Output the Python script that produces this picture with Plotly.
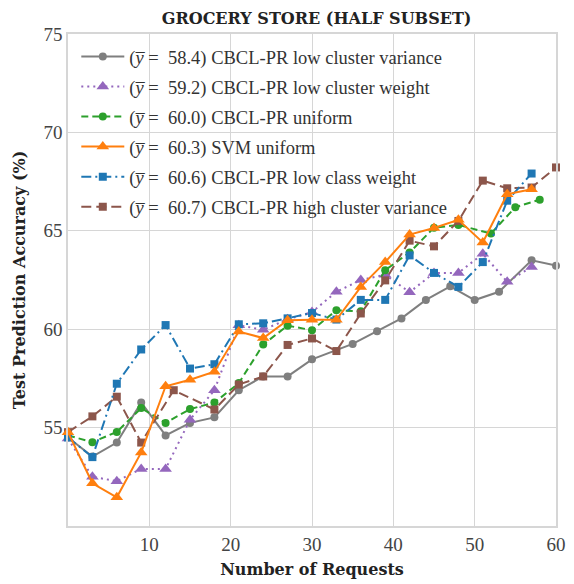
import plotly.graph_objects as go

# ---- data ----
gray_x = [0, 3, 6, 9, 12, 15, 18, 21, 24, 27, 30, 35, 38, 41, 44, 47, 50, 53, 57, 60]
gray_y = [54.5, 53.53, 54.24, 56.27, 54.6, 55.24, 55.52, 56.9, 57.6, 57.6, 58.47, 59.25,
          59.9, 60.55, 61.49, 62.18, 61.48, 61.9, 63.5, 63.23]

purple_x = [0, 3, 6, 9, 12, 15, 18, 21, 24, 27, 30, 33, 36, 39, 42, 45, 48, 51, 54, 57]
purple_y = [54.44, 52.5, 52.28, 52.9, 52.9, 55.4, 56.9, 60.2, 59.97, 60.5, 60.87, 61.9,
            62.5, 62.77, 61.88, 62.86, 62.86, 63.83, 62.41, 63.16]

green_x = [0, 3, 6, 9, 12, 15, 18, 21, 24, 27, 30, 33, 36, 39, 42, 45, 48, 52, 55, 58]
green_y = [54.6, 54.26, 54.78, 55.99, 55.24, 55.94, 56.27, 57.26, 59.22, 60.18, 59.95,
           60.96, 60.91, 63.0, 63.9, 65.16, 65.3, 64.86, 66.2, 66.58]

orange_x = [0, 3, 6, 9, 12, 15, 18, 21, 24, 27, 30, 33, 36, 39, 42, 45, 48, 51, 54, 57]
orange_y = [54.77, 52.17, 51.46, 53.74, 57.1, 57.43, 57.84, 59.88, 59.55, 60.46, 60.48,
            60.48, 62.15, 63.41, 64.81, 65.14, 65.56, 64.41, 66.86, 67.11]

blue_x = [0, 3, 6, 9, 12, 15, 18, 21, 24, 27, 30, 33, 36, 39, 42, 45, 48, 51, 54, 57]
blue_y = [54.5, 53.5, 57.23, 58.97, 60.21, 58.0, 58.22, 60.25, 60.3, 60.55, 60.82, 60.49,
          61.49, 61.49, 63.75, 62.86, 62.15, 63.41, 66.53, 67.91]

brown_x = [0, 3, 6, 9, 13, 18, 21, 24, 27, 30, 33, 36, 39, 42, 45, 48, 51, 54, 57, 60]
brown_y = [54.77, 55.57, 56.57, 54.24, 56.9, 55.92, 57.19, 57.6, 59.2, 59.53, 58.89, 60.8,
           62.48, 64.5, 64.21, 65.5, 67.55, 67.16, 67.2, 68.22]

labels = {
    "gray": "(<i>y̅</i> =  58.4) CBCL-PR low cluster variance",
    "purple": "(<i>y̅</i> =  59.2) CBCL-PR low cluster weight",
    "green": "(<i>y̅</i> =  60.0) CBCL-PR uniform",
    "orange": "(<i>y̅</i> =  60.3) SVM uniform",
    "blue": "(<i>y̅</i> =  60.6) CBCL-PR low class weight",
    "brown": "(<i>y̅</i> =  60.7) CBCL-PR high cluster variance",
}

x_ticks = [10, 20, 30, 40, 50, 60]
y_ticks = [55, 60, 65, 70, 75]

BOLD_FONT = "DejaVu Serif"
REG_FONT = "Liberation Serif"

series = [
    # key, x, y, color, dash, symbol, size, rank
    ("gray", gray_x, gray_y, "#7f7f7f", "solid", "circle", 8, 1),
    ("purple", purple_x, purple_y, "#9467bd", "2px,4px", "triangle-up", 11, 2),
    ("green", green_x, green_y, "#2ca02c", "7px,4px", "circle", 8, 3),
    ("brown", brown_x, brown_y, "#8c564b", "10px,5px", "square", 8, 6),
    ("blue", blue_x, blue_y, "#1f77b4", "10px,4px,2px,4px", "square", 8, 5),
    ("orange", orange_x, orange_y, "#ff7f0e", "solid", "triangle-up", 11, 4),
]

fig = go.Figure()
for key, xs, ys, color, dash, symbol, size, rank in series:
    fig.add_trace(go.Scatter(
        x=xs, y=ys, mode="lines+markers", name=labels[key],
        line=dict(color=color, width=2, dash=dash),
        marker=dict(color=color, symbol=symbol, size=size),
        cliponaxis=False, legendrank=rank, legendgroup=key,
    ))

fig.update_layout(
    width=574, height=584,
    margin=dict(l=68, r=8, t=34, b=49),
    paper_bgcolor="white", plot_bgcolor="white",
    font=dict(family=REG_FONT, color="#333333"),
    title=dict(text="<b>GROCERY STORE (HALF SUBSET)</b>", x=0.5515, xanchor="center",
               y=0.969, yanchor="middle", font=dict(family=BOLD_FONT, size=16, color="#222222")),
    legend=dict(x=0.017, y=0.992, xanchor="left", yanchor="top",
                bgcolor="rgba(255,255,255,0)",
                font=dict(family=REG_FONT, size=18.5, color="#333333"),
                tracegroupgap=3, itemwidth=43),
    showlegend=True,
)
fig.update_xaxes(range=[0, 60], tickvals=x_ticks, showgrid=True, gridcolor="#d6d6d6",
                 gridwidth=1.3, zeroline=False, showline=True, linecolor="#d6d6d6",
                 linewidth=1.5, mirror=True, ticks="", ticklabeloverflow="allow",
                 tickfont=dict(family=REG_FONT, size=19, color="#444444"),
                 title=dict(text="<b>Number of Requests</b>",
                            font=dict(family=BOLD_FONT, size=16, color="#222222"), standoff=10))
fig.update_yaxes(range=[50, 75], tickvals=y_ticks, showgrid=True, gridcolor="#d6d6d6",
                 gridwidth=1.3, zeroline=False, showline=True, linecolor="#d6d6d6",
                 linewidth=1.5, mirror=True, ticks="",
                 tickfont=dict(family=REG_FONT, size=19, color="#444444"),
                 title=dict(text="<b>Test Prediction Accuracy (%)</b>",
                            font=dict(family=BOLD_FONT, size=16, color="#222222"), standoff=14))

fig.write_html("out.html", config={"displayModeBar": False},
               post_script="document.body.style.margin='0';document.body.style.overflow='hidden';")
